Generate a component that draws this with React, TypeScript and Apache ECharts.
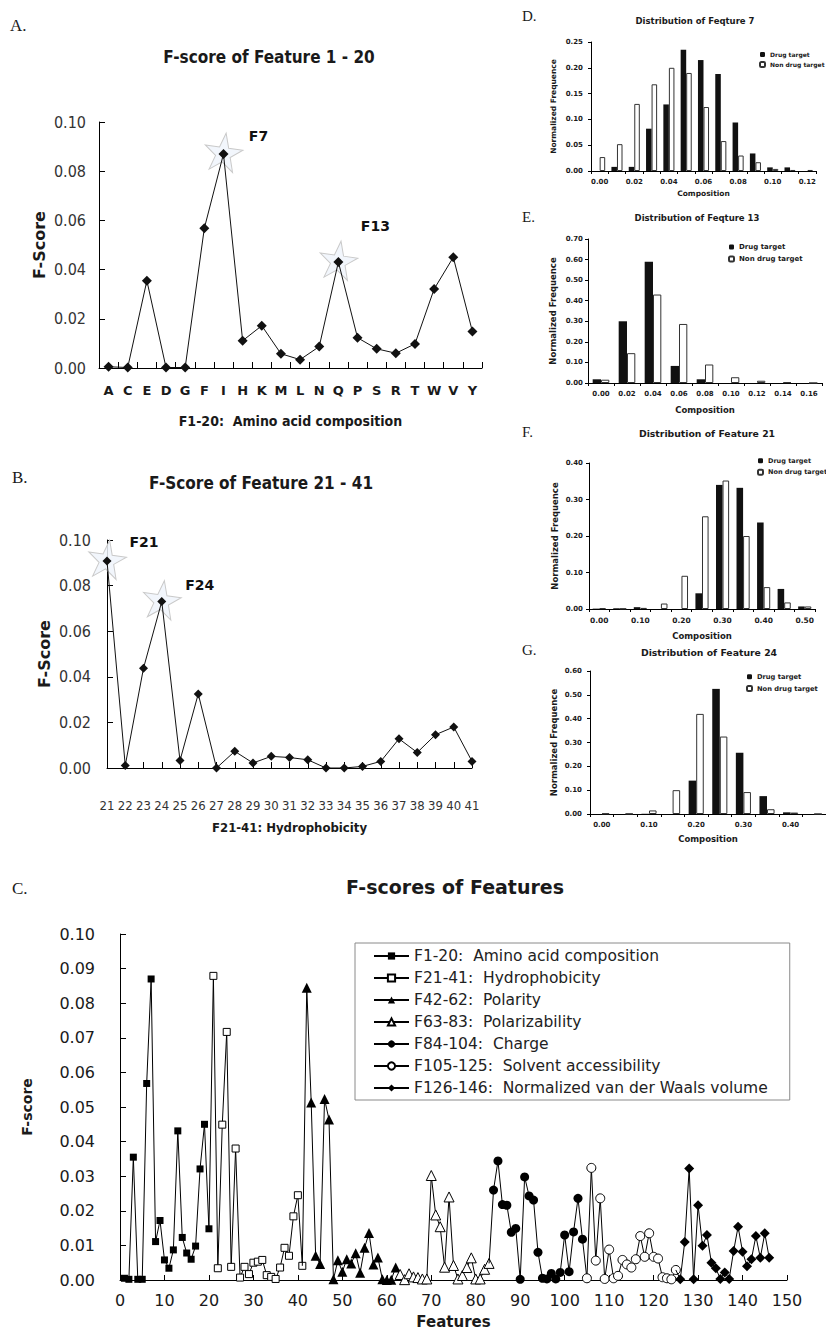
import React, { useEffect, useRef } from "react";
import * as echarts from "echarts";

// ---------- Panel A: F-score of features 1-20 ----------
const aminoAcids = ["A", "C", "E", "D", "G", "F", "I", "H", "K", "M", "L", "N", "Q", "P", "S", "R", "T", "W", "V", "Y"];
const aminoAcidFScore = [0.0005, 0.0002, 0.0355, 0.0002, 0.0002, 0.0568, 0.0870, 0.0111, 0.0172, 0.0058, 0.0034, 0.0087, 0.0431, 0.0123, 0.0078, 0.0060, 0.0098, 0.0321, 0.0450, 0.0148];

// ---------- Panel B: F-score of features 21-41 ----------
const hydroFeatures = ["21", "22", "23", "24", "25", "26", "27", "28", "29", "30", "31", "32", "33", "34", "35", "36", "37", "38", "39", "40", "41"];
const hydroFScore = [0.0908, 0.0011, 0.0438, 0.0730, 0.0033, 0.0325, 0.0, 0.0073, 0.0022, 0.0051, 0.0046, 0.0036, 0.0, 0.0, 0.0007, 0.0029, 0.0128, 0.0068, 0.0146, 0.0180, 0.0029];

// ---------- Panel C: all features ----------
const cHydrophobicity = [0.0879, 0.0034, 0.0449, 0.0717, 0.0038, 0.0380, 0.0007, 0.0038, 0.0017, 0.0050, 0.0053, 0.0058, 0.0014, 0.0009, 0.0003, 0.0036, 0.0093, 0.0070, 0.0184, 0.0245, 0.0041];
const cPolarity = [0.0845, 0.0513, 0.0070, 0.0046, 0.0523, 0.0464, 0.0002, 0.0057, 0.0024, 0.0060, 0.0048, 0.0077, 0.0021, 0.0093, 0.0136, 0.0045, 0.0065, 0.0002, 0.0, 0.0001, 0.0036];
const cPolarizability = [0.0016, 0.0001, 0.0018, 0.0009, 0.0007, 0.0003, 0.0003, 0.0302, 0.0188, 0.0154, 0.0037, 0.0240, 0.0042, 0.0003, 0.0013, 0.0036, 0.0064, 0.0003, 0.0003, 0.0031, 0.0048];
const cCharge = [0.0260, 0.0344, 0.0218, 0.0216, 0.0138, 0.0149, 0.0002, 0.0298, 0.0243, 0.0231, 0.0080, 0.0005, 0.0003, 0.0019, 0.0003, 0.0022, 0.0130, 0.0024, 0.0139, 0.0236, 0.0118];
const cSolvent = [0.0005, 0.0324, 0.0056, 0.0236, 0.0003, 0.0088, 0.0005, 0.0012, 0.0058, 0.0045, 0.0036, 0.0060, 0.0127, 0.0067, 0.0135, 0.0067, 0.0062, 0.0008, 0.0005, 0.0002, 0.0029];
const cVdw = [0.0002, 0.0110, 0.0322, 0.0002, 0.0216, 0.0099, 0.0130, 0.0050, 0.0034, 0.0003, 0.0022, 0.0003, 0.0084, 0.0154, 0.0082, 0.0040, 0.0060, 0.0127, 0.0064, 0.0135, 0.0064];
const cGroupNames = [
  "F1-20:  Amino acid composition",
  "F21-41:  Hydrophobicity",
  "F42-62:  Polarity",
  "F63-83:  Polarizability",
  "F84-104:  Charge",
  "F105-125:  Solvent accessibility",
  "F126-146:  Normalized van der Waals volume",
];
const cGroupStarts = [1, 21, 42, 63, 84, 105, 126];

// ---------- Panels D-G: distributions ----------
const dCats = ["0.00", "0.01", "0.02", "0.03", "0.04", "0.05", "0.06", "0.07", "0.08", "0.09", "0.10", "0.11", "0.12"];
const dDrug = [0, 0.008, 0.008, 0.082, 0.129, 0.235, 0.215, 0.188, 0.094, 0.034, 0.007, 0.007, 0];
const dNon = [0.027, 0.052, 0.13, 0.168, 0.2, 0.19, 0.124, 0.058, 0.03, 0.017, 0.004, 0.002, 0.002];

const eCats = ["0.00", "0.02", "0.04", "0.06", "0.08", "0.10", "0.12", "0.14", "0.16"];
const eDrug = [0.018, 0.30, 0.59, 0.083, 0.018, 0, 0, 0, 0];
const eNon = [0.016, 0.145, 0.43, 0.287, 0.09, 0.028, 0.011, 0.004, 0];

const fCats = ["0.00", "0.05", "0.10", "0.15", "0.20", "0.25", "0.30", "0.35", "0.40", "0.45", "0.50"];
const fDrug = [0.001, 0.002, 0.005, 0, 0, 0.043, 0.34, 0.332, 0.237, 0.055, 0.007];
const fNon = [0.002, 0.001, 0.003, 0.015, 0.091, 0.254, 0.352, 0.20, 0.06, 0.018, 0.007];

const gCats = ["0.00", "0.05", "0.10", "0.15", "0.20", "0.25", "0.30", "0.35", "0.40", "0.45"];
const gDrug = [0, 0, 0.001, 0, 0.14, 0.525, 0.257, 0.075, 0.007, 0];
const gNon = [0.002, 0.001, 0.015, 0.10, 0.42, 0.325, 0.092, 0.02, 0.006, 0];

const COND = "'DejaVu Sans Condensed', 'DejaVu Sans', sans-serif";
const DEJA = "'DejaVu Sans', Verdana, sans-serif";
const SERIF = "'Liberation Serif', 'DejaVu Serif', serif";
const INK = "#1a1a1a";
const STAR = "path://M50,0 L61.8,35.3 L98.5,35.3 L68.8,57.1 L80.2,92.4 L50,70.6 L19.8,92.4 L31.2,57.1 L1.5,35.3 L38.2,35.3 Z";

const fmt2 = (v: number) => v.toFixed(2);

function buildOption() {
  const grids = [
    { left: 99, top: 122, width: 383, height: 246 }, // A
    { left: 107, top: 540, width: 365, height: 228 }, // B
    { left: 120, top: 934, width: 667, height: 348 }, // C
    { left: 591, top: 42, width: 225, height: 129 }, // D
    { left: 588, top: 239, width: 234, height: 144 }, // E
    { left: 589, top: 463, width: 226, height: 146 }, // F
    { left: 590, top: 671, width: 236, height: 143 }, // G
  ];

  const axisLineBlack = { show: true, lineStyle: { color: "#000", width: 1 } };

  const xAxes: any[] = [
    {
      gridIndex: 0, type: "category", data: aminoAcids, boundaryGap: true,
      axisLine: axisLineBlack,
      axisTick: { show: true, inside: true, length: 6, interval: 0, lineStyle: { color: "#000" } },
      axisLabel: { interval: 0, margin: 16, fontFamily: DEJA, fontWeight: "bold", fontSize: 13, color: INK },
      name: "F1-20:  Amino acid composition", nameLocation: "middle", nameGap: 46,
      nameTextStyle: { fontFamily: COND, fontWeight: "bold", fontSize: 14, color: INK },
    },
    {
      gridIndex: 1, type: "category", data: hydroFeatures, boundaryGap: false,
      axisLine: axisLineBlack,
      axisTick: { show: true, inside: true, length: 6, interval: 0, lineStyle: { color: "#000" } },
      axisLabel: { interval: 0, margin: 31, fontFamily: COND, fontSize: 13, color: "#333" },
      name: "F21-41: Hydrophobicity", nameLocation: "middle", nameGap: 53,
      nameTextStyle: { fontFamily: COND, fontWeight: "bold", fontSize: 13, color: INK },
    },
    {
      gridIndex: 2, type: "value", min: 0, max: 150, interval: 10,
      axisLine: axisLineBlack, splitLine: { show: false },
      axisTick: { show: true, inside: true, length: 5, lineStyle: { color: "#000" } },
      axisLabel: { margin: 12, fontFamily: DEJA, fontSize: 16, color: INK },
      name: "Features", nameLocation: "middle", nameGap: 34,
      nameTextStyle: { fontFamily: DEJA, fontWeight: "bold", fontSize: 15, color: INK },
    },
  ];
  const distCats = [dCats, eCats, fCats, gCats];
  const distLabelInterval = [1, 0, 1, 1];
  const distNameGap = [18, 22, 22, 20];
  const distLabelSize = [7, 7, 7.5, 7];
  const distNameSize = [7.5, 8.5, 8.5, 8.5];
  distCats.forEach((cats, i) => {
    xAxes.push({
      gridIndex: 3 + i, type: "category", data: cats, boundaryGap: true,
      axisLine: axisLineBlack,
      axisTick: { show: true, inside: false, length: 3, interval: 0, lineStyle: { color: "#000" } },
      axisLabel: { interval: distLabelInterval[i], margin: 7, fontFamily: DEJA, fontWeight: "bold", fontSize: distLabelSize[i], color: INK },
      name: "Composition", nameLocation: "middle", nameGap: distNameGap[i],
      nameTextStyle: { fontFamily: DEJA, fontWeight: "bold", fontSize: distNameSize[i], color: INK },
    });
  });

  const yAxes: any[] = [
    {
      gridIndex: 0, type: "value", min: 0, max: 0.1, interval: 0.02,
      axisLine: axisLineBlack, splitLine: { show: false },
      axisTick: { show: true, inside: true, length: 6, lineStyle: { color: "#000" } },
      axisLabel: { margin: 13, formatter: fmt2, fontFamily: COND, fontSize: 16, color: "#333" },
      name: "F-Score", nameLocation: "middle", nameGap: 52, nameRotate: 90,
      nameTextStyle: { fontFamily: DEJA, fontWeight: "bold", fontSize: 16, color: INK },
    },
    {
      gridIndex: 1, type: "value", min: 0, max: 0.1, interval: 0.02,
      axisLine: axisLineBlack, splitLine: { show: false },
      axisTick: { show: true, inside: true, length: 6, lineStyle: { color: "#000" } },
      axisLabel: { margin: 16, formatter: fmt2, fontFamily: COND, fontSize: 16, color: "#333" },
      name: "F-Score", nameLocation: "middle", nameGap: 55, nameRotate: 90,
      nameTextStyle: { fontFamily: DEJA, fontWeight: "bold", fontSize: 16, color: INK },
    },
    {
      gridIndex: 2, type: "value", min: 0, max: 0.1, interval: 0.01,
      axisLine: axisLineBlack, splitLine: { show: false },
      axisTick: { show: true, inside: true, length: 6, lineStyle: { color: "#000" } },
      axisLabel: { margin: 25, formatter: fmt2, fontFamily: DEJA, fontSize: 16, color: INK },
      name: "F-score", nameLocation: "middle", nameGap: 86, nameRotate: 90,
      nameTextStyle: { fontFamily: DEJA, fontWeight: "bold", fontSize: 14, color: INK },
    },
  ];
  const distMax = [0.25, 0.7, 0.4, 0.6];
  const distInt = [0.05, 0.1, 0.1, 0.1];
  const distYMargin = [8, 5, 6, 8];
  const distYNameGap = [34, 31, 30, 32];
  distMax.forEach((mx, i) => {
    yAxes.push({
      gridIndex: 3 + i, type: "value", min: 0, max: mx, interval: distInt[i],
      axisLine: axisLineBlack, splitLine: { show: false },
      axisTick: { show: true, inside: false, length: 3, lineStyle: { color: "#000" } },
      axisLabel: { margin: distYMargin[i], formatter: fmt2, fontFamily: DEJA, fontWeight: "bold", fontSize: 7, color: INK },
      name: "Normalized Frequence", nameLocation: "middle", nameGap: distYNameGap[i], nameRotate: 90,
      nameTextStyle: { fontFamily: DEJA, fontWeight: "bold", fontSize: distNameSize[i], color: INK },
    });
  });

  const series: any[] = [];

  // Stars (behind the lines)
  const starStyle = { color: "rgba(240,245,252,0.85)", borderColor: "#c9c9c9", borderWidth: 1, opacity: 1 };
  const starLabel = (text: string, offset: number[]) => ({
    show: true, position: "inside", offset, formatter: text, opacity: 1,
    fontFamily: DEJA, fontWeight: "bold", fontSize: 14, color: "#111",
  });
  series.push({
    type: "scatter", xAxisIndex: 0, yAxisIndex: 0, z: 1, silent: true,
    symbol: STAR, symbolSize: 38, symbolRotate: -8, symbolOffset: [0, -2], itemStyle: starStyle,
    data: [
      { value: [aminoAcids[6], aminoAcidFScore[6]], label: starLabel("F7", [35, -16]) },
      { value: [aminoAcids[12], aminoAcidFScore[12]], label: starLabel("F13", [37, -34]) },
    ],
  });
  series.push({
    type: "scatter", xAxisIndex: 1, yAxisIndex: 1, z: 1, silent: true,
    symbol: STAR, symbolSize: 38, symbolRotate: -8, symbolOffset: [0, -2], itemStyle: starStyle,
    data: [
      { value: [hydroFeatures[0], hydroFScore[0]], label: starLabel("F21", [37, -17]) },
      { value: [hydroFeatures[3], hydroFScore[3]], label: starLabel("F24", [38, -15]) },
    ],
  });

  series.push({
    type: "line", name: "A", xAxisIndex: 0, yAxisIndex: 0, z: 3, data: aminoAcidFScore,
    symbol: "diamond", symbolSize: 10, itemStyle: { color: "#111" }, lineStyle: { color: "#111", width: 1 },
  });
  series.push({
    type: "line", name: "B", xAxisIndex: 1, yAxisIndex: 1, z: 3, data: hydroFScore,
    symbol: "diamond", symbolSize: 9, itemStyle: { color: "#111" }, lineStyle: { color: "#111", width: 1 },
  });

  // Panel C
  const cValues = [aminoAcidFScore, cHydrophobicity, cPolarity, cPolarizability, cCharge, cSolvent, cVdw];
  const cSymbols = ["rect", "rect", "triangle", "triangle", "circle", "circle", "diamond"];
  const cSizes = [7, 7, 10, 10, 9, 9, 10];
  const cFill = ["#000", "#fff", "#000", "#fff", "#000", "#fff", "#000"];
  cValues.forEach((vals, k) => {
    const data: any[] = [];
    if (k > 0) {
      const prev = cValues[k - 1];
      data.push({ value: [cGroupStarts[k - 1] + prev.length - 1, prev[prev.length - 1]], symbol: "none" });
    }
    vals.forEach((v, i) => data.push([cGroupStarts[k] + i, v]));
    series.push({
      type: "line", name: cGroupNames[k], xAxisIndex: 2, yAxisIndex: 2, z: 3 + k,
      data, symbol: cSymbols[k], symbolSize: cSizes[k],
      itemStyle: { color: cFill[k], borderColor: "#000", borderWidth: cFill[k] === "#fff" ? 1 : 0 },
      lineStyle: { color: "#000", width: 1 },
    });
  });

  // Panels D-G
  const distDrug = [dDrug, eDrug, fDrug, gDrug];
  const distNon = [dNon, eNon, fNon, gNon];
  distDrug.forEach((drug, i) => {
    series.push({
      type: "bar", name: "Drug target", xAxisIndex: 3 + i, yAxisIndex: 3 + i, data: drug,
      barGap: "0%", barCategoryGap: "36%", itemStyle: { color: "#111" },
    });
    series.push({
      type: "bar", name: "Non drug target", xAxisIndex: 3 + i, yAxisIndex: 3 + i, data: distNon[i],
      barGap: "0%", barCategoryGap: "36%", itemStyle: { color: "#fff", borderColor: "#333", borderWidth: 1 },
    });
  });

  const distLegend = (left: number, top: number, size: number, gap: number) => ({
    orient: "vertical", left, top, padding: 0, itemGap: gap, itemWidth: 5, itemHeight: 5,
    selectedMode: false, data: ["Drug target", "Non drug target"],
    textStyle: { fontFamily: DEJA, fontWeight: "bold", fontSize: size, color: INK, lineHeight: size + 1 },
  });

  const legends = [
    {
      orient: "vertical", left: 355, top: 943, padding: [5, 22, 4, 18], itemGap: 6,
      itemWidth: 35, itemHeight: 9, borderColor: "#8a8a8a", borderWidth: 1, selectedMode: false,
      data: cGroupNames,
      textStyle: { fontFamily: DEJA, fontSize: 15.5, color: "#222", lineHeight: 14 },
    },
    distLegend(759, 51, 6, 3),
    distLegend(728, 243, 7, 4),
    distLegend(757, 457, 6.5, 4),
    distLegend(746, 673, 6.7, 4),
  ];

  const txt = (text: string, x: number, y: number, size: number, family: string, weight: string, align = "center") => ({
    type: "text", x, y, silent: true,
    style: { text, fill: INK, fontSize: size, fontFamily: family, fontWeight: weight, align, verticalAlign: "middle" },
  });

  const graphic = [
    txt("A.", 10, 25, 17, SERIF, "normal", "left"),
    txt("B.", 12, 477, 17, SERIF, "normal", "left"),
    txt("C.", 12, 888, 17, SERIF, "normal", "left"),
    txt("D.", 522, 16, 15, SERIF, "normal", "left"),
    txt("E.", 522, 217, 15, SERIF, "normal", "left"),
    txt("F.", 522, 432, 15, SERIF, "normal", "left"),
    txt("G.", 522, 650, 15, SERIF, "normal", "left"),
    txt("F-score of Feature 1 - 20", 269, 57, 17, COND, "bold"),
    txt("F-Score of Feature 21 - 41", 261, 483, 17, COND, "bold"),
    txt("F-scores of Features", 455, 887, 19, DEJA, "bold"),
    txt("Distribution of Feqture 7", 695, 21, 8.5, DEJA, "bold"),
    txt("Distribution of Feqture 13", 697, 218, 8.5, DEJA, "bold"),
    txt("Distribution of Feature 21", 707, 433, 9.3, DEJA, "bold"),
    txt("Distribution of Feature 24", 709, 652, 9.3, DEJA, "bold"),
  ];

  return {
    animation: false,
    backgroundColor: "#fff",
    grid: grids,
    xAxis: xAxes,
    yAxis: yAxes,
    legend: legends,
    series,
    graphic,
  };
}

export default function App() {
  const ref = useRef<HTMLDivElement>(null);
  useEffect(() => {
    document.body.style.margin = "0";
    if (!ref.current) return;
    const chart = echarts.init(ref.current, undefined, { renderer: "svg" });
    chart.setOption(buildOption() as any);
    return () => chart.dispose();
  }, []);
  return <div ref={ref} style={{ width: 826, height: 1330, background: "#fff" }} />;
}
